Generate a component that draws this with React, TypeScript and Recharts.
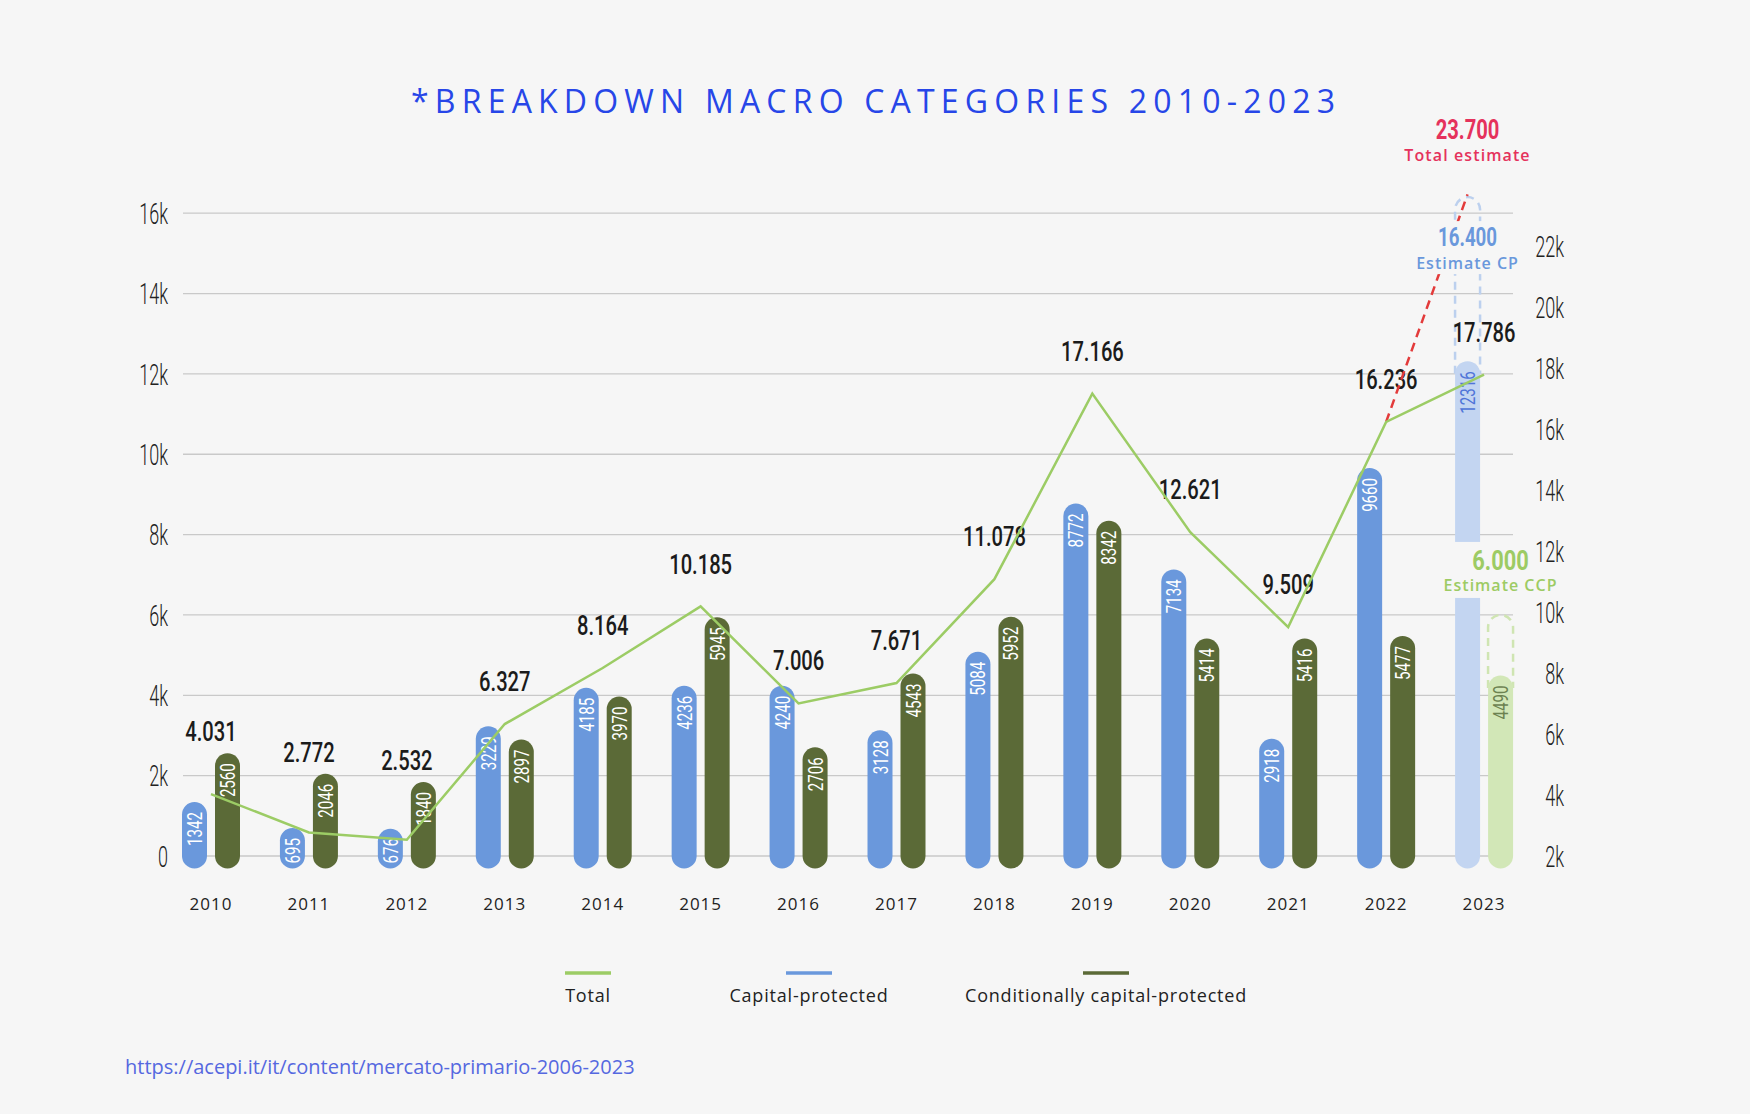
import React from 'react';
import { ComposedChart, Bar, Line, XAxis, YAxis, CartesianGrid, ReferenceDot } from 'recharts';

// ---------- data ----------
const years = ['2010', '2011', '2012', '2013', '2014', '2015', '2016', '2017', '2018', '2019', '2020', '2021', '2022', '2023'];
const capitalProtected = [1342, 695, 676, 3229, 4185, 4236, 4240, 3128, 5084, 8772, 7134, 2918, 9660, 12316];
const conditionallyProtected = [2560, 2046, 1840, 2897, 3970, 5945, 2706, 4543, 5952, 8342, 5414, 5416, 5477, 4490];
const totals = [4031, 2772, 2532, 6327, 8164, 10185, 7006, 7671, 11078, 17166, 12621, 9509, 16236, 17786];
const estimateYear = '2023';
const estimateTotal = 23700;
const estimateCP = 16400;
const estimateCCP = 6000;
const leftTicks = [0, 2000, 4000, 6000, 8000, 10000, 12000, 14000, 16000];
const rightTicks = [2000, 4000, 6000, 8000, 10000, 12000, 14000, 16000, 18000, 20000, 22000];
const seriesNames = ['Total', 'Capital-protected', 'Conditionally capital-protected'];
const titleText = '*BREAKDOWN MACRO CATEGORIES 2010-2023';
const sourceText = 'https://acepi.it/it/content/mercato-primario-2006-2023';

// ---------- layout / style ----------
const CHART_W = 1750;
const CHART_H = 1114;
const MARGIN = { top: 173, right: 0, bottom: 198, left: 0 };
const LEFT_AXIS_W = 162;
const RIGHT_AXIS_W = 217;
const X_AXIS_H = 60;
const BAR_SIZE = 25;
const BAR_GAP = 8;
const PLOT_W = CHART_W - MARGIN.left - MARGIN.right - LEFT_AXIS_W - RIGHT_AXIS_W;
const BAND = PLOT_W / years.length;
const CP_SHIFT = -((BAR_SIZE + BAR_GAP) / 2) / BAND;
const CCP_SHIFT = -CP_SHIFT;
const LEFT_DOMAIN: [number, number] = [0, 17000];
const RIGHT_DOMAIN: [number, number] = [2000, 24400];

const C = {
  bg: '#f6f6f6',
  cp: '#6a98dc',
  ccp: '#5b6a37',
  cpLight: '#c3d5f1',
  ccpLight: '#d2e7b7',
  cpDash: '#bcd0ee',
  ccpDash: '#cfe5b2',
  total: '#9ccc65',
  red: '#e33b3b',
  crimson: '#e5325c',
  estCP: '#6a98dc',
  estCCP: '#9dcb64',
  title: '#2746e8',
  url: '#5568e0',
  text: '#222222',
  grid: '#c9c9c9',
};

const fmt = (n: number) => String(n).replace(/\B(?=(\d{3})+(?!\d))/g, '.');

const rows = years.map((year, i) => ({
  year,
  cp: capitalProtected[i],
  ccp: conditionallyProtected[i],
  total: totals[i],
}));

const lastActual = years.length - 2;
const estimateLine = [
  { pos: lastActual, est: totals[lastActual] },
  { pos: years.length - 1 + CP_SHIFT, est: estimateTotal },
];

// ---------- ticks ----------
const LeftTick = (props: any) => {
  const { x, y, payload } = props;
  const v = payload.value;
  return (
    <text
      transform={`translate(${x + 6},${y}) scale(0.6,1)`}
      textAnchor="end"
      dy="0.36em"
      fontFamily="Roboto"
      fontWeight={300}
      fontSize={30}
      fill={C.text}
    >
      {v === 0 ? '0' : `${v / 1000}k`}
    </text>
  );
};

const RightTick = (props: any) => {
  const { x, y, payload } = props;
  const v = payload.value;
  return (
    <text
      transform={`translate(${x + 31},${y}) scale(0.6,1)`}
      textAnchor="end"
      dy="0.36em"
      fontFamily="Roboto"
      fontWeight={300}
      fontSize={30}
      fill={C.text}
    >
      {`${v / 1000}k`}
    </text>
  );
};

const YearTick = (props: any) => {
  const { x, y, payload } = props;
  return (
    <text
      x={x}
      y={y + 48}
      dy="0.36em"
      textAnchor="middle"
      fontFamily="Open Sans"
      fontSize={17}
      letterSpacing={1}
      fill={C.text}
    >
      {payload.value}
    </text>
  );
};

// ---------- bar shapes ----------
function makePill(series: 'cp' | 'ccp') {
  return (props: any) => {
    const { x, y, width, height, index } = props;
    if (width == null || height == null) return <g />;
    const values = series === 'cp' ? capitalProtected : conditionallyProtected;
    const value = values[index];
    const r = width / 2;
    const baseline = y + height;
    const pxL = value > 0 ? height / value : 0;
    const isEst = years[index] === estimateYear;
    const fill = isEst ? (series === 'cp' ? C.cpLight : C.ccpLight) : series === 'cp' ? C.cp : C.ccp;
    const est = series === 'cp' ? estimateCP : estimateCCP;
    const estTop = baseline - est * pxL;
    const cx = x + width / 2;
    const short = height < 50;
    const anchorY = short ? baseline + r - 5 : y + 10;
    const labelColor = isEst ? (series === 'cp' ? '#4f74d8' : '#6c8250') : '#ffffff';
    const clipId = `clip-${series}-${index}`;

    let totalLabel: any = null;
    if (series === 'ccp') {
      const catX = x - BAR_GAP / 2;
      const rScale = (pxL * (LEFT_DOMAIN[1] - LEFT_DOMAIN[0])) / (RIGHT_DOMAIN[1] - RIGHT_DOMAIN[0]);
      const pointY = baseline - (totals[index] - RIGHT_DOMAIN[0]) * rScale;
      const cpTop = baseline - capitalProtected[index] * pxL;
      const ly = Math.min(pointY - 43, Math.min(cpTop, y) - 22);
      totalLabel = (
        <text
          transform={`translate(${catX},${ly}) scale(0.72,1)`}
          textAnchor="middle"
          dy="0.36em"
          fontFamily="Roboto"
          fontWeight={500}
          fontSize={28}
          fill="#1b1b1b"
        >
          {fmt(totals[index])}
        </text>
      );
    }

    return (
      <g>
        {isEst && (
          <path
            d={`M ${x} ${y + r} L ${x} ${estTop + r} A ${r} ${r} 0 0 1 ${x + width} ${estTop + r} L ${x + width} ${y + r}`}
            fill="none"
            stroke={series === 'cp' ? C.cpDash : C.ccpDash}
            strokeWidth={2.5}
            strokeDasharray="8 6"
          />
        )}
        <rect x={x} y={y} width={width} height={height + r} rx={r} ry={r} fill={fill} />
        <clipPath id={clipId}>
          <rect x={x} y={y} width={width} height={height + r} />
        </clipPath>
        <g clipPath={`url(#${clipId})`}>
          <text
            transform={`translate(${cx},${anchorY}) rotate(-90) scale(0.72,1)`}
            textAnchor={short ? 'start' : 'end'}
            dy="0.36em"
            fontFamily="Roboto"
            fontWeight={400}
            fontSize={21}
            fill={labelColor}
          >
            {value}
          </text>
        </g>
        {totalLabel}
      </g>
    );
  };
}

const CPShape = makePill('cp');
const CCPShape = makePill('ccp');

// ---------- annotation labels ----------
const dotCenter = (vb: any) => ({
  cx: (vb?.x ?? 0) + (vb?.width ?? 0) / 2,
  cy: (vb?.y ?? 0) + (vb?.height ?? 0) / 2,
});

const TotalEstimateLabel = (props: any) => {
  const { cx, cy } = dotCenter(props.viewBox);
  return (
    <g>
      <text
        transform={`translate(${cx},${cy - 65}) scale(0.72,1)`}
        textAnchor="middle"
        dy="0.36em"
        fontFamily="Roboto"
        fontWeight={700}
        fontSize={28}
        fill={C.crimson}
      >
        {fmt(estimateTotal)}
      </text>
      <text
        x={cx}
        y={cy - 39}
        dy="0.36em"
        textAnchor="middle"
        fontFamily="Open Sans"
        fontWeight={600}
        fontSize={16}
        letterSpacing={1.1}
        fill={C.crimson}
      >
        Total estimate
      </text>
    </g>
  );
};

const CPEstimateLabel = (props: any) => {
  const { cx, cy } = dotCenter(props.viewBox);
  return (
    <g>
      <rect x={cx - 57} y={cy + 24} width={113} height={53} fill={C.bg} />
      <text
        transform={`translate(${cx},${cy + 40}) scale(0.72,1)`}
        textAnchor="middle"
        dy="0.36em"
        fontFamily="Roboto"
        fontWeight={700}
        fontSize={26}
        fill={C.estCP}
      >
        {fmt(estimateCP)}
      </text>
      <text
        x={cx}
        y={cy + 66}
        dy="0.36em"
        textAnchor="middle"
        fontFamily="Open Sans"
        fontWeight={600}
        fontSize={16}
        letterSpacing={1}
        fill={C.estCP}
      >
        Estimate CP
      </text>
    </g>
  );
};

const CCPEstimateLabel = (props: any) => {
  const { cx, cy } = dotCenter(props.viewBox);
  return (
    <g>
      <rect x={cx - 50} y={cy - 73} width={76} height={56} fill={C.bg} />
      <text
        transform={`translate(${cx},${cy - 55}) scale(0.78,1)`}
        textAnchor="middle"
        dy="0.36em"
        fontFamily="Roboto"
        fontWeight={700}
        fontSize={28}
        fill={C.estCCP}
      >
        {fmt(estimateCCP)}
      </text>
      <text
        x={cx}
        y={cy - 30}
        dy="0.36em"
        textAnchor="middle"
        fontFamily="Open Sans"
        fontWeight={600}
        fontSize={16}
        letterSpacing={1}
        fill={C.estCCP}
      >
        Estimate CCP
      </text>
    </g>
  );
};

// ---------- overlay (title, legend, source) ----------
const legendItems = [
  { name: seriesNames[0], color: C.total, cx: 588 },
  { name: seriesNames[1], color: C.cp, cx: 809 },
  { name: seriesNames[2], color: C.ccp, cx: 1106 },
];

const Overlay = () => (
  <svg
    width={CHART_W}
    height={CHART_H}
    style={{ position: 'absolute', left: 0, top: 0, pointerEvents: 'none' }}
  >
    <text x={411} y={113} fontFamily="Open Sans" fontSize={32} letterSpacing={6.2} fill={C.title}>
      {titleText}
    </text>
    {legendItems.map((it) => (
      <g key={it.name}>
        <line x1={it.cx - 23} x2={it.cx + 23} y1={973} y2={973} stroke={it.color} strokeWidth={3.5} />
        <text
          x={it.cx}
          y={1002}
          textAnchor="middle"
          fontFamily="Open Sans"
          fontSize={18}
          letterSpacing={0.8}
          fill={C.text}
        >
          {it.name}
        </text>
      </g>
    ))}
    <text x={125} y={1074} fontFamily="Open Sans" fontSize={20} fill={C.url}>
      {sourceText}
    </text>
  </svg>
);

export default function App() {
  return (
    <div
      style={{
        position: 'absolute',
        left: 0,
        top: 0,
        width: CHART_W,
        height: CHART_H,
        background: C.bg,
        overflow: 'hidden',
      }}
    >
      <ComposedChart
        width={CHART_W}
        height={CHART_H}
        data={rows}
        margin={MARGIN}
        barSize={BAR_SIZE}
        barGap={BAR_GAP}
      >
        <CartesianGrid
          xAxisId="cat"
          yAxisId="left"
          vertical={false}
          horizontalValues={leftTicks}
          stroke={C.grid}
          strokeWidth={1.3}
          x={183}
          width={1330}
        />
        <XAxis
          xAxisId="cat"
          dataKey="year"
          height={X_AXIS_H}
          axisLine={false}
          tickLine={false}
          tickSize={0}
          tickMargin={0}
          interval={0}
          tick={<YearTick />}
        />
        <XAxis
          xAxisId="idx"
          type="number"
          dataKey="pos"
          domain={[-0.5, years.length - 0.5]}
          hide
        />
        <YAxis
          yAxisId="left"
          width={LEFT_AXIS_W}
          domain={LEFT_DOMAIN}
          ticks={leftTicks}
          interval={0}
          axisLine={false}
          tickLine={false}
          tickSize={0}
          tickMargin={0}
          tick={<LeftTick />}
        />
        <YAxis
          yAxisId="right"
          orientation="right"
          width={RIGHT_AXIS_W}
          domain={RIGHT_DOMAIN}
          ticks={rightTicks}
          interval={0}
          axisLine={false}
          tickLine={false}
          tickSize={0}
          tickMargin={0}
          tick={<RightTick />}
        />
        <Bar
          xAxisId="cat"
          yAxisId="left"
          dataKey="cp"
          name={seriesNames[1]}
          fill={C.cp}
          shape={CPShape}
          isAnimationActive={false}
        />
        <Bar
          xAxisId="cat"
          yAxisId="left"
          dataKey="ccp"
          name={seriesNames[2]}
          fill={C.ccp}
          shape={CCPShape}
          isAnimationActive={false}
        />
        <Line
          xAxisId="idx"
          yAxisId="right"
          data={estimateLine}
          dataKey="est"
          type="linear"
          stroke={C.red}
          strokeWidth={2.5}
          strokeDasharray="9 6"
          dot={false}
          activeDot={false}
          isAnimationActive={false}
        />
        <Line
          xAxisId="cat"
          yAxisId="right"
          dataKey="total"
          name={seriesNames[0]}
          type="linear"
          stroke={C.total}
          strokeWidth={2.5}
          dot={false}
          activeDot={false}
          isAnimationActive={false}
        />
        <ReferenceDot
          xAxisId="idx"
          yAxisId="right"
          x={years.length - 1 + CP_SHIFT}
          y={estimateTotal}
          r={0}
          fill="none"
          stroke="none"
          label={<TotalEstimateLabel />}
        />
        <ReferenceDot
          xAxisId="idx"
          yAxisId="left"
          x={years.length - 1 + CP_SHIFT}
          y={estimateCP}
          r={0}
          fill="none"
          stroke="none"
          label={<CPEstimateLabel />}
        />
        <ReferenceDot
          xAxisId="idx"
          yAxisId="left"
          x={years.length - 1 + CCP_SHIFT}
          y={estimateCCP}
          r={0}
          fill="none"
          stroke="none"
          label={<CCPEstimateLabel />}
        />
      </ComposedChart>
      <Overlay />
    </div>
  );
}
